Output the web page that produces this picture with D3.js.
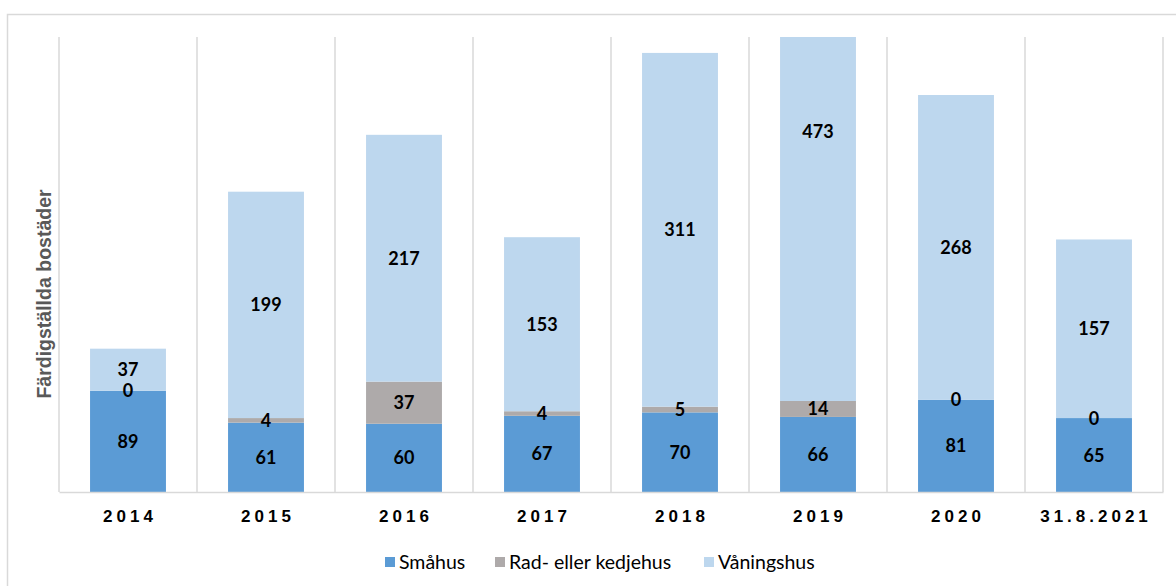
<!DOCTYPE html>
<html>
<head>
<meta charset="utf-8">
<script src="https://cdn.jsdelivr.net/npm/d3@7"></script>
<style>
  body { margin: 0; background: #fff; }
  svg { display: block; }
</style>
</head>
<body>
<script>
(function (d3) {
    'use strict';

    // data
    var years = ["2014", "2015", "2016", "2017", "2018", "2019", "2020", "31.8.2021"];
    var smahus = [89, 61, 60, 67, 70, 66, 81, 65];
    var radhus = [0, 4, 37, 4, 5, 14, 0, 0];
    var vaningshus = [37, 199, 217, 153, 311, 473, 268, 157];

    var keys = ["Småhus", "Rad- eller kedjehus", "Våningshus"];
    var colors = ["#5b9bd5", "#aeaaaa", "#bdd7ee"];

    var W = 1176, H = 586;
    var margin = { top: 37, right: 13, bottom: 94, left: 59 };
    var width = W - margin.left - margin.right;
    var height = H - margin.top - margin.bottom;

    var data = years.map(function (y, i) {
        var d = { year: y };
        d[keys[0]] = smahus[i];
        d[keys[1]] = radhus[i];
        d[keys[2]] = vaningshus[i];
        return d;
    });

    var x = d3.scaleBand()
        .domain(years)
        .range([0, width])
        .paddingInner(0.45)
        .paddingOuter(0.225);

    // axis stops at 400, the 2019 bar runs past the top
    var y = d3.scaleLinear()
        .domain([0, 400])
        .range([height, 0]);

    var z = d3.scaleOrdinal().domain(keys).range(colors);

    var svg = d3.select("body").append("svg")
        .attr("width", W)
        .attr("height", H);

    // chart frame
    svg.append("rect")
        .attr("x", 7.5)
        .attr("y", 14.5)
        .attr("width", W)
        .attr("height", H)
        .attr("fill", "none")
        .attr("stroke", "#d9d9d9")
        .attr("stroke-width", 1.5);

    var g = svg.append("g")
        .attr("transform", "translate(" + margin.left + "," + margin.top + ")");

    svg.append("defs").append("clipPath")
        .attr("id", "plotclip")
        .append("rect")
        .attr("width", width)
        .attr("height", height);

    // vertical separators between categories
    var step = x.step();
    var seps = d3.range(years.length + 1).map(function (i) { return i * step; });
    g.selectAll(".sep")
        .data(seps)
        .enter().append("line")
        .attr("class", "sep")
        .attr("x1", function (d) { return d; })
        .attr("x2", function (d) { return d; })
        .attr("y1", 0)
        .attr("y2", height)
        .attr("stroke", "#d9d9d9")
        .attr("stroke-width", 1.5);

    var stacked = d3.stack().keys(keys)(data);

    var layer = g.append("g")
        .attr("clip-path", "url(#plotclip)")
        .selectAll(".layer")
        .data(stacked)
        .enter().append("g")
        .attr("class", "layer")
        .attr("fill", function (d) { return z(d.key); });

    layer.selectAll("rect")
        .data(function (d) { return d; })
        .enter().append("rect")
        .attr("x", function (d) { return x(d.data.year); })
        .attr("y", function (d) { return y(d[1]); })
        .attr("height", function (d) { return y(d[0]) - y(d[1]); })
        .attr("width", x.bandwidth());

    // value labels in the middle of each segment
    var labels = g.append("g")
        .attr("font-family", "Lato, 'Open Sans', sans-serif")
        .attr("font-weight", "bold")
        .attr("font-size", 18)
        .attr("fill", "#000")
        .attr("text-anchor", "middle");

    stacked.forEach(function (s) {
        labels.selectAll(null)
            .data(s)
            .enter().append("text")
            .attr("x", function (d) { return x(d.data.year) + x.bandwidth() / 2; })
            .attr("y", function (d) { return y((d[0] + d[1]) / 2); })
            .attr("dy", "0.36em")
            .text(function (d) { return d[1] - d[0]; });
    });

    // x axis
    var xAxis = g.append("g")
        .attr("transform", "translate(0," + height + ")")
        .call(d3.axisBottom(x).tickSize(0).tickPadding(18));
    xAxis.select(".domain")
        .attr("stroke", "#d9d9d9")
        .attr("stroke-width", 1.5);
    xAxis.selectAll("text")
        .attr("font-family", "'Liberation Sans', Arial, sans-serif")
        .attr("font-weight", "bold")
        .attr("font-size", 17)
        .attr("letter-spacing", "4px")
        .attr("dx", "2px")
        .attr("fill", "#000");

    // y title
    svg.append("text")
        .attr("transform", "translate(51," + 294 + ") rotate(-90)")
        .attr("text-anchor", "middle")
        .attr("font-family", "'Liberation Sans', Arial, sans-serif")
        .attr("font-weight", "bold")
        .attr("font-size", 19.5)
        .attr("fill", "#595959")
        .text("Färdigställda bostäder");

    // legend
    var legendX = [385, 495, 704];
    var legend = svg.append("g")
        .attr("font-family", "Lato, 'Open Sans', sans-serif")
        .attr("font-size", 19.5)
        .selectAll("g")
        .data(keys)
        .enter().append("g")
        .attr("transform", function (d, i) { return "translate(" + legendX[i] + ",562)"; });

    legend.append("rect")
        .attr("x", 0)
        .attr("y", -5)
        .attr("width", 10)
        .attr("height", 10)
        .attr("fill", z);

    legend.append("text")
        .attr("x", 14)
        .attr("dy", "0.35em")
        .attr("fill", "#000")
        .text(function (d) { return d; });

})(d3);
</script>
</body>
</html>
